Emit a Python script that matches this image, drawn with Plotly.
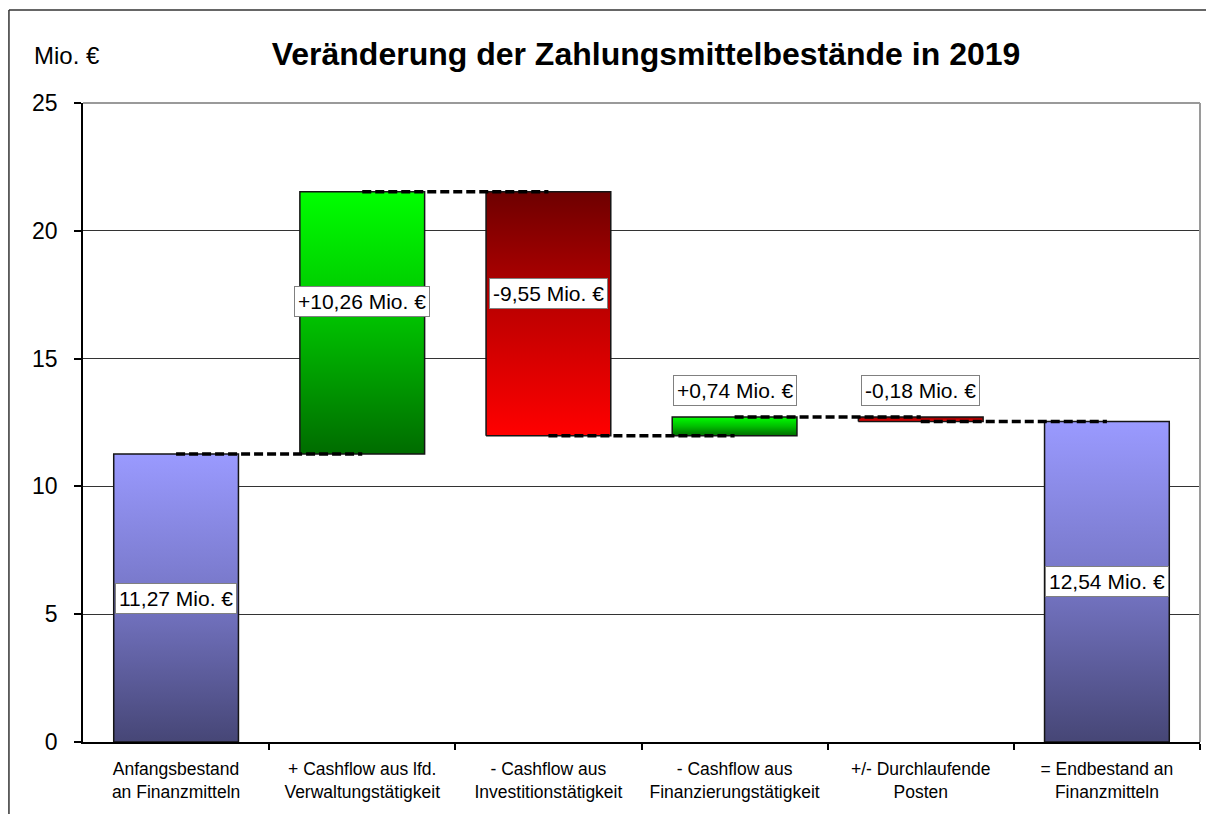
import plotly.graph_objects as go

# ---- data ----
categories = [
    "Anfangsbestand<br>an Finanzmitteln",
    "+ Cashflow aus lfd.<br>Verwaltungstätigkeit",
    "- Cashflow aus<br>Investitionstätigkeit",
    "- Cashflow aus<br>Finanzierungstätigkeit",
    "+/- Durchlaufende<br>Posten",
    "= Endbestand an<br>Finanzmitteln",
]
values = [11.27, 10.26, -9.55, 0.74, -0.18, 12.54]
kinds = ["total", "relative", "relative", "relative", "relative", "total"]
label_pos = [5.63, 17.25, 17.53, 13.75, 13.75, 6.26]
y_ticks = [0, 5, 10, 15, 20, 25]

# ---- derived geometry from data ----
bases, tops, ends = [], [], []
running = 0.0
for v, k in zip(values, kinds):
    if k == "total":
        b, t = 0.0, v
        running = v
    else:
        b = running
        running = running + v
        t = running
    bases.append(min(b, t))
    tops.append(max(b, t))
    ends.append(running)

def fmt(v, k):
    s = f"{v:.2f}" if k == "total" else f"{v:+.2f}"
    return s.replace(".", ",") + " Mio. €"

BLUE = [[0, "#464676"], [0.5, "#7676C6"], [1, "#9A9AFF"]]
GREEN = [[0, "#006C00"], [0.5, "#00BE00"], [1, "#00FF00"]]
RED = [[0, "#FF0000"], [0.5, "#C00000"], [1, "#6E0000"]]

half = 0.335
FONT = "Liberation Sans, Arial, sans-serif"
W, H = 1206, 806

fig = go.Figure()

for i, (v, k) in enumerate(zip(values, kinds)):
    if k == "total":
        cs = BLUE
    elif v >= 0:
        cs = GREEN
    else:
        cs = RED
    x0, x1 = i - half, i + half
    fig.add_trace(go.Scatter(
        x=[x0, x1, x1, x0, x0],
        y=[bases[i], bases[i], tops[i], tops[i], bases[i]],
        mode="lines",
        fill="toself",
        fillgradient=dict(type="vertical", colorscale=cs),
        line=dict(color="#151515", width=1.5),
        hoverinfo="skip",
        showlegend=False,
    ))

# connectors (center to center at running level)
for i in range(len(values) - 1):
    fig.add_trace(go.Scatter(
        x=[i, i + 1], y=[ends[i], ends[i]],
        mode="lines",
        line=dict(color="black", width=3.5, dash="9px,4px"),
        hoverinfo="skip",
        showlegend=False,
    ))

# value labels
for i, (v, k) in enumerate(zip(values, kinds)):
    fig.add_annotation(
        x=i, y=label_pos[i], xref="x", yref="y",
        text=fmt(v, k), showarrow=False,
        font=dict(family=FONT, size=21, color="black"),
        bgcolor="white", bordercolor="#808080", borderwidth=1, borderpad=3,
        xanchor="center", yanchor="middle",
    )

# unit label
fig.add_annotation(
    x=-0.0457, y=1.0736, xref="paper", yref="paper",
    text="Mio. €", showarrow=False, xanchor="left", yanchor="middle",
    font=dict(family=FONT, size=24, color="black"),
)

# plot-area top/right border (gray) and outer frame
fig.add_shape(type="line", xref="paper", yref="paper", x0=0, x1=1, y0=1, y1=1,
              line=dict(color="#9a9a9a", width=2), layer="above")
fig.add_shape(type="line", xref="paper", yref="paper", x0=1, x1=1, y0=0, y1=1,
              line=dict(color="#9a9a9a", width=2), layer="above")
fig.add_shape(type="line", xref="paper", yref="paper",
              x0=-0.0663, x1=-0.0663, y0=-0.2, y1=1.1455,
              line=dict(color="#333333", width=1.5), layer="above")
fig.add_shape(type="line", xref="paper", yref="paper",
              x0=-0.0663, x1=1.05, y0=1.1455, y1=1.1455,
              line=dict(color="#333333", width=1.5), layer="above")

fig.update_layout(
    template="none",
    width=W, height=H,
    margin=dict(l=75, r=W - 1192, t=95, b=H - 734, autoexpand=False),
    paper_bgcolor="white", plot_bgcolor="white",
    font=dict(family=FONT, color="black"),
    title=dict(
        text="<b>Veränderung der Zahlungsmittelbestände in 2019</b>",
        x=638 / W, xanchor="center", y=1 - 46 / H, yanchor="middle",
        font=dict(family=FONT, size=32, color="black"),
    ),
    showlegend=False,
)

fig.update_xaxes(
    range=[-0.5, 5.5],
    tickmode="array", tickvals=list(range(len(categories))), ticktext=categories,
    ticks="", showgrid=False, zeroline=False,
    showline=True, linecolor="black", linewidth=1.5,
    tickfont=dict(family=FONT, size=17.5, color="black"),
    ticklabelstandoff=10,
    minor=dict(tickmode="array", tickvals=[i + 0.5 for i in range(len(categories))],
               ticks="outside", ticklen=6, tickcolor="black", tickwidth=1.5, showgrid=False),
    fixedrange=True,
)
fig.update_yaxes(
    range=[0, 25],
    tickmode="array", tickvals=y_ticks,
    ticks="outside", ticklen=7, tickcolor="black", tickwidth=1.5,
    showline=True, linecolor="black", linewidth=1.5,
    showgrid=True, gridcolor="#333333", gridwidth=1, zeroline=False,
    tickfont=dict(family=FONT, size=23, color="black"),
    ticklabelstandoff=12,
    fixedrange=True,
)

fig.write_html("out.html", config={"displayModeBar": False})
